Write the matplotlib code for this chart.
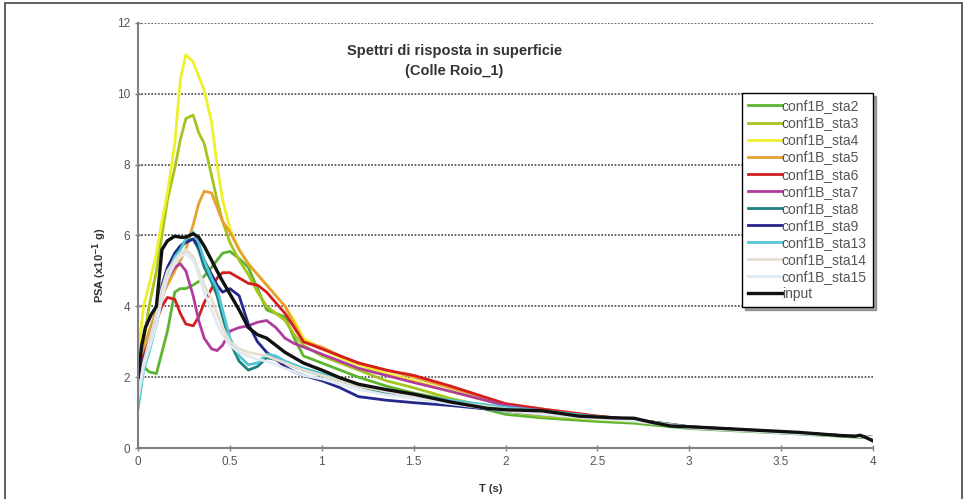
import numpy as np
import matplotlib
matplotlib.use('Agg')
from matplotlib import pyplot as plt
from matplotlib.patches import Rectangle

plt.rcParams['font.family'] = ['Liberation Sans', 'DejaVu Sans']

# periods (s) shared by the station spectra
T = [0, 0.03, 0.06, 0.1, 0.13, 0.16, 0.2, 0.23, 0.26, 0.3, 0.33, 0.36, 0.4, 0.43, 0.46,
     0.5, 0.55, 0.6, 0.65, 0.7, 0.75, 0.8, 0.85, 0.9, 1.0, 1.1, 1.2, 1.35, 1.5, 1.7,
     2.0, 2.2, 2.5, 2.7, 3.0, 3.5, 4.0]

sta2 = [1.2, 2.3, 2.15, 2.1, 2.7, 3.3, 4.4, 4.5, 4.5, 4.6, 4.7, 4.85, 5.1, 5.3, 5.5,
        5.55, 5.35, 5.1, 4.5, 3.9, 3.8, 3.7, 3.1, 2.6, 2.4, 2.2, 2.0, 1.75, 1.55, 1.35,
        0.95, 0.85, 0.75, 0.7, 0.55, 0.42, 0.28]
sta3 = [2.0, 3.0, 4.0, 5.0, 6.0, 7.0, 7.9, 8.7, 9.3, 9.4, 8.9, 8.6, 7.7, 7.0, 6.4,
        5.8, 5.3, 4.9, 4.4, 4.0, 3.8, 3.6, 3.2, 2.9, 2.6, 2.4, 2.2, 1.9, 1.7, 1.4,
        1.05, 0.9, 0.8, 0.75, 0.58, 0.45, 0.3]
sta4 = [2.6, 4.0, 4.6, 5.5, 6.4, 7.2, 8.6, 10.4, 11.1, 10.9, 10.5, 10.1, 9.2, 8.0, 7.0,
        6.2, 5.6, 5.2, 4.9, 4.6, 4.3, 4.0, 3.6, 3.1, 2.8, 2.55, 2.35, 2.1, 1.9, 1.6,
        1.2, 1.05, 0.9, 0.8, 0.6, 0.45, 0.3]
sta5 = [1.8, 2.8, 3.3, 3.9, 4.3, 4.6, 5.0, 5.3, 5.6, 6.3, 6.9, 7.25, 7.2, 6.8, 6.4,
        6.1, 5.6, 5.2, 4.9, 4.6, 4.3, 4.0, 3.5, 3.0, 2.85, 2.6, 2.4, 2.2, 2.0, 1.7,
        1.25, 1.1, 0.9, 0.8, 0.6, 0.45, 0.3]
sta6 = [1.9, 2.6, 3.0, 3.6, 4.0, 4.25, 4.2, 3.8, 3.5, 3.45, 3.7, 4.1, 4.5, 4.8, 4.95,
        4.95, 4.8, 4.65, 4.6, 4.4, 4.1, 3.8, 3.4, 3.0, 2.8, 2.6, 2.4, 2.2, 2.05, 1.75,
        1.25, 1.1, 0.9, 0.8, 0.6, 0.45, 0.3]
sta7 = [1.8, 2.5, 2.9, 3.5, 4.2, 4.8, 5.1, 5.2, 5.0, 4.3, 3.6, 3.1, 2.8, 2.75, 2.9,
        3.3, 3.4, 3.45, 3.55, 3.6, 3.4, 3.1, 2.95, 2.85, 2.65, 2.45, 2.25, 2.05, 1.85, 1.6,
        1.2, 1.05, 0.88, 0.8, 0.6, 0.45, 0.3]
sta8 = [1.5, 2.4, 2.8, 3.6, 4.4, 5.0, 5.5, 5.7, 5.85, 5.9, 5.6, 5.1, 4.7, 4.3, 3.7,
        3.0, 2.45, 2.2, 2.3, 2.55, 2.5, 2.4, 2.3, 2.2, 2.05, 1.9, 1.75, 1.55, 1.45, 1.3,
        1.1, 1.0, 0.85, 0.78, 0.58, 0.44, 0.3]
sta9 = [1.6, 2.5, 3.0, 3.8, 4.6, 5.1, 5.5, 5.7, 5.8, 5.9, 5.7, 5.3, 4.9, 4.6, 4.4,
        4.5, 4.3, 3.5, 3.0, 2.7, 2.5, 2.3, 2.15, 2.05, 1.9, 1.7, 1.45, 1.35, 1.28, 1.2,
        1.05, 0.95, 0.85, 0.78, 0.58, 0.44, 0.3]
sta13 = [1.1, 2.2, 2.7, 3.5, 4.3, 4.9, 5.4, 5.6, 5.9, 6.1, 5.8, 5.3, 4.8, 4.5, 3.9,
         3.1, 2.6, 2.35, 2.4, 2.65, 2.6, 2.45, 2.35, 2.25, 2.1, 1.95, 1.8, 1.6, 1.5, 1.35,
         1.15, 1.05, 0.88, 0.8, 0.6, 0.45, 0.3]
sta14 = [1.5, 2.4, 3.0, 3.8, 4.5, 5.0, 5.3, 5.5, 5.6, 5.4, 5.0, 4.6, 4.2, 3.8, 3.4,
         3.0, 2.8, 2.7, 2.65, 2.6, 2.5, 2.4, 2.3, 2.2, 2.05, 1.9, 1.75, 1.6, 1.45, 1.3,
         1.1, 1.0, 0.85, 0.78, 0.58, 0.44, 0.3]
sta15 = [1.4, 2.3, 2.8, 3.5, 4.2, 4.8, 5.2, 5.4, 5.5, 5.3, 4.9, 4.4, 3.9, 3.5, 3.2,
         2.9, 2.7, 2.6, 2.5, 2.45, 2.35, 2.25, 2.15, 2.05, 1.95, 1.8, 1.65, 1.5, 1.4, 1.25,
         1.05, 0.95, 0.82, 0.76, 0.57, 0.43, 0.3]

# input motion spectrum
T_in = [0, 0.02, 0.04, 0.07, 0.1, 0.13, 0.16, 0.2, 0.23, 0.26, 0.3, 0.33, 0.36, 0.4, 0.45,
        0.5, 0.55, 0.6, 0.65, 0.7, 0.75, 0.8, 0.9, 1.0, 1.1, 1.2, 1.35, 1.5, 1.7, 1.9,
        2.0, 2.2, 2.4, 2.6, 2.7, 2.8, 2.9, 3.0, 3.3, 3.6, 3.8, 3.9, 3.93, 3.96, 4.0]
psa_in = [2.0, 2.9, 3.4, 3.75, 4.0, 5.6, 5.85, 5.98, 5.95, 5.95, 6.05, 5.95, 5.7, 5.3, 4.8,
          4.35, 3.9, 3.4, 3.2, 3.1, 2.9, 2.7, 2.4, 2.2, 1.98, 1.8, 1.65, 1.52, 1.3, 1.12,
          1.08, 1.05, 0.9, 0.85, 0.84, 0.72, 0.62, 0.6, 0.52, 0.44, 0.36, 0.33, 0.36, 0.3, 0.2]

series = [('conf1B_sta2', sta2, '#5cb531'),
          ('conf1B_sta3', sta3, '#a6c41e'),
          ('conf1B_sta4', sta4, '#eef02a'),
          ('conf1B_sta5', sta5, '#e8a034'),
          ('conf1B_sta6', sta6, '#d41e1e'),
          ('conf1B_sta7', sta7, '#b03c9c'),
          ('conf1B_sta8', sta8, '#1f8080'),
          ('conf1B_sta9', sta9, '#24288c'),
          ('conf1B_sta13', sta13, '#52c6d2'),
          ('conf1B_sta14', sta14, '#e6dfd0'),
          ('conf1B_sta15', sta15, '#dfeaf2')]

fig = plt.figure(figsize=(9.64, 4.99), dpi=100)
ax = fig.add_axes([0.1432, 0.1022, 0.7624, 0.8518])

for name, vals, col in series:
    ax.plot(T, vals, color=col, lw=2.0, label=name, solid_joinstyle='round')
ax.plot(T_in, psa_in, color='#111111', lw=2.4, label='input')

ax.set_xlim(0, 4)
ax.set_ylim(0, 12)
ax.set_xticks(np.arange(0, 4.01, 0.5))
ax.set_xticklabels(['0', '0.5', '1', '1.5', '2', '2.5', '3', '3.5', '4'])
ax.set_yticks(range(0, 13, 2))
ax.yaxis.grid(True, color='#444444', linestyle=(0, (1, 1)), lw=1.2)
ax.set_axisbelow(True)
for s in ['top', 'right']:
    ax.spines[s].set_visible(False)
for s in ['left', 'bottom']:
    ax.spines[s].set_color('#808080')
    ax.spines[s].set_linewidth(1.5)
ax.tick_params(direction='inout', length=5, width=1, color='#808080',
               labelsize=8.5, labelcolor='#555555', pad=3)

ax.set_xlabel('T (s)', fontsize=8, fontweight='bold', color='#333333')
ax.xaxis.set_label_coords(0.48, -0.085)
ax.set_ylabel('PSA (x10$^{\\mathbf{-1}}$ g)', fontsize=8, fontweight='bold', color='#333333')
ax.yaxis.set_label_coords(-0.04, 0.43)

ax.text(0.43, 0.91, 'Spettri di risposta in superficie\n(Colle Roio_1)',
        transform=ax.transAxes, ha='center', va='center', fontsize=10.5,
        fontweight='bold', color='#333333', linespacing=1.55)

leg = ax.legend(loc='upper right', bbox_to_anchor=(1.0, 0.835), fontsize=10,
                frameon=True, fancybox=False, shadow=True, handlelength=2.4,
                handletextpad=0.0, labelspacing=0.22, borderpad=0.45,
                borderaxespad=0)
leg.get_frame().set_edgecolor('black')
leg.get_frame().set_linewidth(1.0)
for t in leg.get_texts():
    t.set_color('#555555')

# outer frame around the picture
fig.patches.append(Rectangle((5 / 964, -0.02), 957 / 964, 1.0 - 3 / 499 + 0.02,
                             transform=fig.transFigure, fill=False,
                             edgecolor='#444444', lw=1.2))

fig.savefig('out.png', dpi=100)
